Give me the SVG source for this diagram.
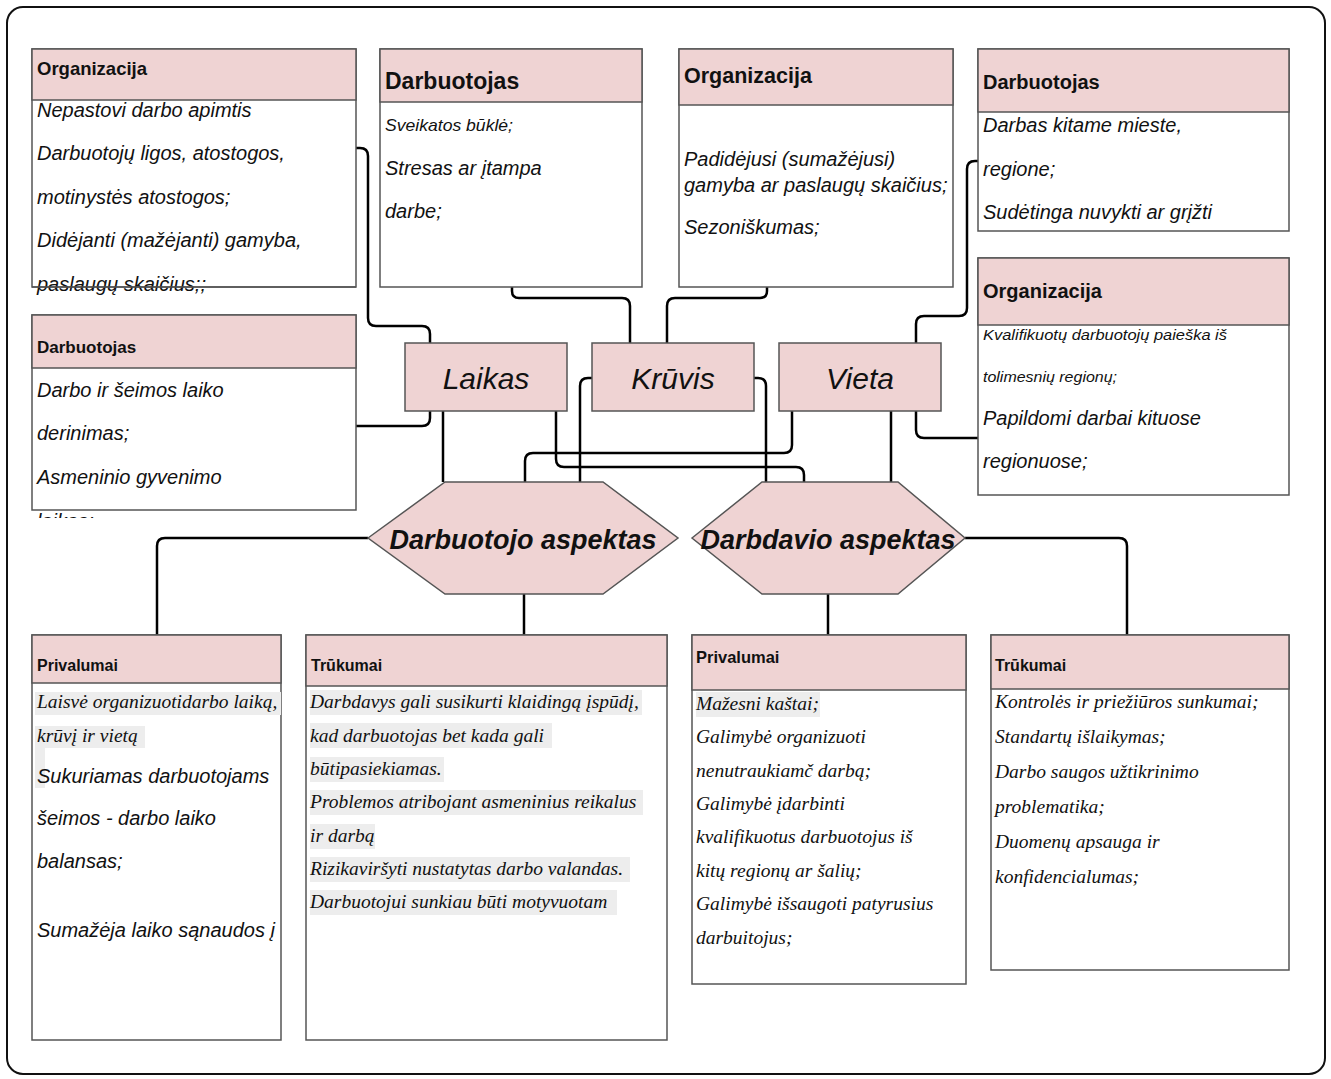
<svg xmlns="http://www.w3.org/2000/svg" width="1331" height="1079" viewBox="0 0 1331 1079">
<style>
.box{fill:#fff;stroke:#555;stroke-width:1.5}
.hdr{fill:#efd3d3;stroke:#555;stroke-width:1.5}
.conn{fill:none;stroke:#000;stroke-width:2.5}
.h{font-family:"Liberation Sans",Arial,sans-serif;font-weight:bold;fill:#111}
.t{font-family:"Liberation Sans",Arial,sans-serif;font-style:italic;font-size:20px;fill:#111}
.s{font-family:"Liberation Serif","Times New Roman",serif;font-style:italic;font-size:19.5px;fill:#111}
.big{font-family:"Liberation Sans",Arial,sans-serif;font-style:italic;font-size:30px;fill:#111;text-anchor:middle}
.hex{font-family:"Liberation Sans",Arial,sans-serif;font-style:italic;font-weight:bold;font-size:27px;fill:#111;text-anchor:middle}
.hl{fill:#ededed}
</style>
<defs>
<clipPath id="clip6"><rect x="0" y="300" width="400" height="218"/></clipPath>
</defs>
<rect x="0" y="0" width="1331" height="1079" fill="#fff"/>
<rect x="7" y="7" width="1318" height="1067" rx="16" fill="none" stroke="#111" stroke-width="2"/>

<g id="connectors">
<path class="conn" d="M356,148 H360 Q368,148 368,156 V318 Q368,326 376,326 H422 Q430,326 430,334 V343"/>
<path class="conn" d="M356,426 H422 Q430,426 430,418 V411"/>
<path class="conn" d="M443,411 V482"/>
<path class="conn" d="M556,411 V459 Q556,467 564,467 H796 Q804,467 804,475 V482"/>
<path class="conn" d="M512,287 V291 Q512,298 519,298 H622 Q630,298 630,306 V343"/>
<path class="conn" d="M767,287 V291 Q767,298 760,298 H675 Q667,298 667,306 V343"/>
<path class="conn" d="M592,378 H588 Q580,378 580,386 V482"/>
<path class="conn" d="M754,378 H758 Q766,378 766,386 V482"/>
<path class="conn" d="M792,411 V445 Q792,453 784,453 H533 Q525,453 525,461 V482"/>
<path class="conn" d="M891,411 V482"/>
<path class="conn" d="M916,411 V430 Q916,438 924,438 H978"/>
<path class="conn" d="M916,343 V324 Q916,316 924,316 H959 Q967,316 967,308 V169 Q967,161 975,161 H978"/>
<path class="conn" d="M368,538 H165 Q157,538 157,546 V635"/>
<path class="conn" d="M524,594 V635"/>
<path class="conn" d="M828,594 V635"/>
<path class="conn" d="M965,538 H1119 Q1127,538 1127,546 V635"/>
</g>

<g id="org1">
<rect class="box" x="32" y="49" width="324" height="238"/>
<rect class="hdr" x="32" y="49" width="324" height="51"/>
<text class="h" x="37" y="75" font-size="18.5">Organizacija</text>
<text class="t" x="37" y="117">Nepastovi darbo apimtis</text>
<text class="t" x="37" y="160">Darbuotojų ligos, atostogos,</text>
<text class="t" x="37" y="204">motinystės atostogos;</text>
<text class="t" x="37" y="247">Didėjanti (mažėjanti) gamyba,</text>
<text class="t" x="37" y="291">paslaugų skaičius;;</text>
<line x1="32" y1="287" x2="356" y2="287" stroke="#555" stroke-width="1.5"/>
</g>

<g id="darb1">
<rect class="box" x="380" y="49" width="262" height="238"/>
<rect class="hdr" x="380" y="49" width="262" height="53"/>
<text class="h" x="385" y="89" font-size="23">Darbuotojas</text>
<text class="t" x="385" y="131" style="font-size:17px" textLength="128" lengthAdjust="spacingAndGlyphs">Sveikatos būklė;</text>
<text class="t" x="385" y="175">Stresas ar įtampa</text>
<text class="t" x="385" y="218">darbe;</text>
</g>

<g id="org2">
<rect class="box" x="679" y="49" width="274" height="238"/>
<rect class="hdr" x="679" y="49" width="274" height="56"/>
<text class="h" x="684" y="83" font-size="21.5">Organizacija</text>
<text class="t" x="684" y="166">Padidėjusi (sumažėjusi)</text>
<text class="t" x="684" y="192">gamyba ar paslaugų skaičius;</text>
<text class="t" x="684" y="234">Sezoniškumas;</text>
</g>

<g id="darb2">
<rect class="box" x="978" y="49" width="311" height="182"/>
<rect class="hdr" x="978" y="49" width="311" height="63"/>
<text class="h" x="983" y="89" font-size="20">Darbuotojas</text>
<text class="t" x="983" y="132">Darbas kitame mieste,</text>
<text class="t" x="983" y="176">regione;</text>
<text class="t" x="983" y="219">Sudėtinga nuvykti ar grįžti</text>
</g>

<g id="org3">
<rect class="box" x="978" y="258" width="311" height="237"/>
<rect class="hdr" x="978" y="258" width="311" height="67"/>
<text class="h" x="983" y="298" font-size="20">Organizacija</text>
<text class="t" x="983" y="340" style="font-size:15px" textLength="244" lengthAdjust="spacingAndGlyphs">Kvalifikuotų darbuotojų paieška iš</text>
<text class="t" x="983" y="382" style="font-size:15px" textLength="134" lengthAdjust="spacingAndGlyphs">tolimesnių regionų;</text>
<text class="t" x="983" y="425">Papildomi darbai kituose</text>
<text class="t" x="983" y="468">regionuose;</text>
</g>

<g id="darb3">
<rect class="box" x="32" y="315" width="324" height="195"/>
<rect class="hdr" x="32" y="315" width="324" height="53"/>
<text class="h" x="37" y="353" font-size="17">Darbuotojas</text>
<text class="t" x="37" y="397">Darbo ir šeimos laiko</text>
<text class="t" x="37" y="440">derinimas;</text>
<text class="t" x="37" y="484">Asmeninio gyvenimo</text>
<text class="t" x="37" y="528" clip-path="url(#clip6)">laikas;</text>
</g>

<g id="laikas">
<rect class="hdr" x="405" y="343" width="162" height="68"/>
<text class="big" x="486" y="389">Laikas</text>
</g>
<g id="kruvis">
<rect class="hdr" x="592" y="343" width="162" height="68"/>
<text class="big" x="673" y="389">Krūvis</text>
</g>
<g id="vieta">
<rect class="hdr" x="779" y="343" width="162" height="68"/>
<text class="big" x="860" y="389">Vieta</text>
</g>

<g id="darbuotojo-aspektas">
<polygon class="hdr" points="368,538 445,482 603,482 678,538 603,594 445,594"/>
<text class="hex" x="523" y="549">Darbuotojo aspektas</text>
</g>
<g id="darbdavio-aspektas">
<polygon class="hdr" points="692,538 762,482 898,482 965,538 898,594 762,594"/>
<text class="hex" x="828" y="549">Darbdavio aspektas</text>
</g>

<g id="privalumai1">
<rect class="box" x="32" y="635" width="249" height="405"/>
<rect class="hdr" x="32" y="635" width="249" height="48"/>
<text class="h" x="37" y="671" font-size="16">Privalumai</text>
<rect class="hl" x="35" y="692" width="246" height="23"/>
<rect class="hl" x="35" y="726" width="110" height="22"/>
<rect class="hl" x="35" y="748" width="10" height="40"/>
<text class="s" x="37" y="708">Laisvė organizuotidarbo laiką,</text>
<text class="s" x="37" y="742">krūvį ir vietą </text>
<text class="t" x="37" y="783">Sukuriamas darbuotojams</text>
<text class="t" x="37" y="825">šeimos - darbo laiko</text>
<text class="t" x="37" y="868">balansas;</text>
<text class="t" x="37" y="937">Sumažėja laiko sąnaudos į</text>
</g>

<g id="trukumai1">
<rect class="box" x="306" y="635" width="361" height="405"/>
<rect class="hdr" x="306" y="635" width="361" height="51"/>
<text class="h" x="311" y="671" font-size="16">Trūkumai</text>
<rect class="hl" x="310" y="690" width="332" height="25"/>
<rect class="hl" x="310" y="723" width="242" height="25"/>
<rect class="hl" x="310" y="757" width="134" height="25"/>
<rect class="hl" x="310" y="790" width="333" height="25"/>
<rect class="hl" x="310" y="824" width="65" height="25"/>
<rect class="hl" x="310" y="857" width="320" height="25"/>
<rect class="hl" x="310" y="890" width="307" height="25"/>
<text class="s" x="310" y="708">Darbdavys gali susikurti klaidingą įspūdį,</text>
<text class="s" x="310" y="742">kad darbuotojas bet kada gali</text>
<text class="s" x="310" y="775">būtipasiekiamas.</text>
<text class="s" x="310" y="808">Problemos atribojant asmeninius reikalus</text>
<text class="s" x="310" y="842">ir darbą</text>
<text class="s" x="310" y="875">Rizikaviršyti nustatytas darbo valandas.</text>
<text class="s" x="310" y="908">Darbuotojui sunkiau būti motyvuotam</text>
</g>

<g id="privalumai2">
<rect class="box" x="692" y="635" width="274" height="349"/>
<rect class="hdr" x="692" y="635" width="274" height="55"/>
<text class="h" x="696" y="663" font-size="16.5">Privalumai</text>
<rect class="hl" x="696" y="692" width="124" height="25"/>
<text class="s" x="696" y="710">Mažesni kaštai;</text>
<text class="s" x="696" y="743">Galimybė organizuoti</text>
<text class="s" x="696" y="777">nenutraukiamč darbą;</text>
<text class="s" x="696" y="810">Galimybė įdarbinti</text>
<text class="s" x="696" y="843">kvalifikuotus darbuotojus iš</text>
<text class="s" x="696" y="877">kitų regionų ar šalių;</text>
<text class="s" x="696" y="910">Galimybė išsaugoti patyrusius</text>
<text class="s" x="696" y="944">darbuitojus;</text>
</g>

<g id="trukumai2">
<rect class="box" x="991" y="635" width="298" height="335"/>
<rect class="hdr" x="991" y="635" width="298" height="54"/>
<text class="h" x="995" y="671" font-size="16">Trūkumai</text>
<text class="s" x="995" y="708">Kontrolės ir priežiūros sunkumai;</text>
<text class="s" x="995" y="743">Standartų išlaikymas;</text>
<text class="s" x="995" y="778">Darbo saugos užtikrinimo</text>
<text class="s" x="995" y="813">problematika;</text>
<text class="s" x="995" y="848">Duomenų apsauga ir</text>
<text class="s" x="995" y="883">konfidencialumas;</text>
</g>
</svg>
